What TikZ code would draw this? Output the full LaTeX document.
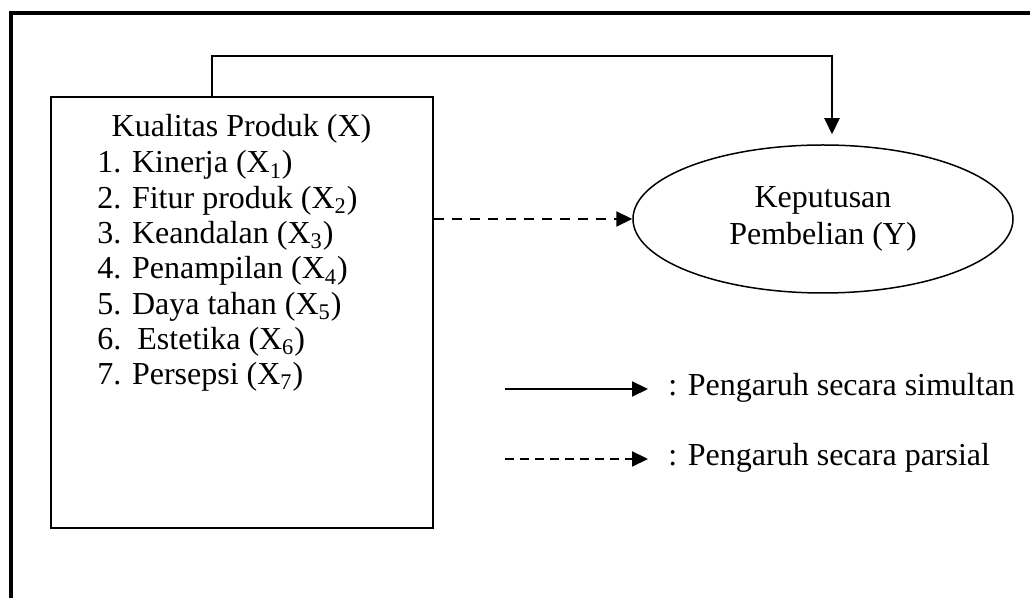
\documentclass[tikz,border=0pt]{standalone}
\usepackage{fontspec}
\setmainfont{Liberation Serif}
\usetikzlibrary{arrows.meta, shapes}

\begin{document}
\begin{tikzpicture}[
  x=0.5pt,
  y=0.5pt,
  teks/.style={font=\fontsize{16pt}{17.75pt}\selectfont, inner sep=0pt},
  kotak/.style={draw, line width=1pt, minimum width=191pt, minimum height=215.6pt},
  lonjong/.style={draw, ellipse, line width=0.75pt, minimum width=190pt, minimum height=74pt, align=center, font=\fontsize{16pt}{18.5pt}\selectfont},
  simul/.style={line width=1.1pt, -{Triangle[length=8pt, width=7.5pt]}},
  parsi/.style={line width=1.1pt, dash pattern=on 5pt off 4pt, -{Triangle[length=8pt, width=7.5pt]}},
  bingkai/.style={line width=2.15pt}
  ]
    % Frame
    \useasboundingbox (0,0) rectangle (1030,-598);
    \clip (0,0) rectangle (1030,-598);
    \draw[bingkai] (11,-13) rectangle (1060,-630);

% variabel X
\node[kotak] (kualitas) at (242,-312.9) {};
\node[teks, anchor=base] (judul) at (241.5,-137) {Kualitas Produk (X)};
\node[teks, anchor=base west] (x1) at (97,-173) {1. Kinerja (X\textsubscript{1})};
\node[teks, anchor=base west] (x2) at (97,-208.3) {2. Fitur produk (X\textsubscript{2})};
\node[teks, anchor=base west] (x3) at (97,-243.6) {3. Keandalan (X\textsubscript{3})};
\node[teks, anchor=base west] (x4) at (97,-278.9) {4. Penampilan (X\textsubscript{4})};
\node[teks, anchor=base west] (x5) at (97,-314.2) {5. Daya tahan (X\textsubscript{5})};
\node[teks, anchor=base west] (x6) at (97,-349.5) {6.\ \ Estetika (X\textsubscript{6})};
\node[teks, anchor=base west] (x7) at (97,-384.8) {7. Persepsi (X\textsubscript{7})};

% variabel Y
\node[lonjong] (keputusan) at (823,-219) {Keputusan\\Pembelian (Y)};

% pengaruh
\draw[simul, shorten >=5pt] ([xshift=-15pt]kualitas.north) -- ++(0,40) -| ([xshift=4.5pt]keputusan.north);
\draw[parsi] (kualitas.east |- keputusan.west) -- (keputusan.west);

%legend
\coordinate (s0) at (505,-389);
\coordinate (p0) at (505,-459);
\node[teks, anchor=base west] (simultan) at (668,-396) {: Pengaruh secara simultan};
\node[teks, anchor=base west] (parsial) at (668,-466) {: Pengaruh secara parsial};
\draw[simul, shorten >=10pt] (s0) -- (s0 -| simultan.west);
\draw[parsi, dash pattern=on 4.5pt off 3pt, shorten >=10pt] (p0) -- (p0 -| parsial.west);

\end{tikzpicture}
\end{document}
